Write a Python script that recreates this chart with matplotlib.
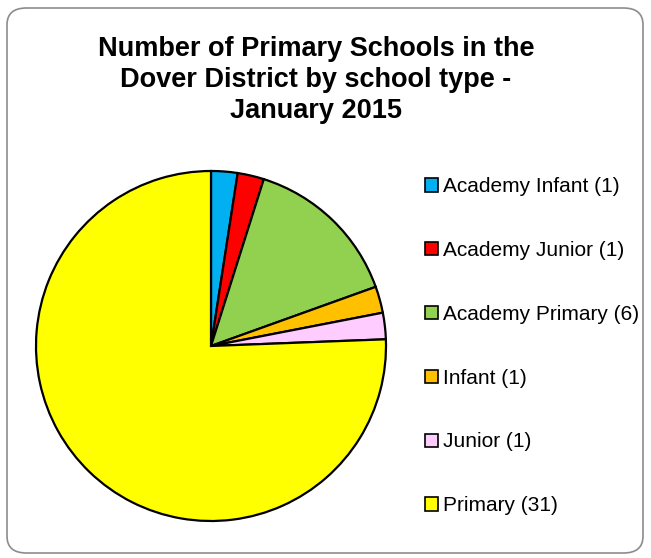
import matplotlib.pyplot as plt
from matplotlib.patches import FancyBboxPatch, Patch

plt.rcParams['font.family'] = ['Liberation Sans', 'DejaVu Sans']

# data
school_types = ["Academy Infant", "Academy Junior", "Academy Primary", "Infant", "Junior", "Primary"]
counts = [1, 1, 6, 1, 1, 31]
colours = ["#00B0F0", "#FF0000", "#92D050", "#FFC000", "#FFCCFF", "#FFFF00"]
title = "Number of Primary Schools in the\nDover District by school type -\nJanuary 2015"

W, H = 651, 558
fig = plt.figure(figsize=(W / 100, H / 100), dpi=100)

# rounded chart border
border = FancyBboxPatch((7 / W, 5 / H), 636 / W, 545 / H,
                        boxstyle="round,pad=0,rounding_size=0.03",
                        transform=fig.transFigure, facecolor="white",
                        edgecolor="#8c8c8c", linewidth=1.2, zorder=-5)
fig.patches.append(border)

# pie centred at (211, 346) px, radius 175 px
cx, cy, r = 211, 346, 175
ax = fig.add_axes([(cx - r) / W, (H - cy - r) / H, 2 * r / W, 2 * r / H])
ax.set_zorder(2)
ax.pie(counts, colors=colours, startangle=90, counterclock=False,
       wedgeprops=dict(edgecolor="black", linewidth=1.6))
ax.set_xlim(-1.0, 1.0)
ax.set_ylim(-1.0, 1.0)
ax.set_aspect("equal")
ax.axis("off")

fig.text(316 / W, 1 - 80 / H, title, ha="center", va="center",
         fontsize=19.5, fontweight="bold", linespacing=1.24)

handles = [Patch(facecolor=c, edgecolor="black", linewidth=1.2) for c in colours]
labels = [f"{t} ({n})" for t, n in zip(school_types, counts)]
fig.legend(handles, labels, loc="upper left",
           bbox_to_anchor=(417 / W, 1 - 169 / H), frameon=False,
           fontsize=15, handlelength=0.6, handleheight=0.6,
           handletextpad=0.25, labelspacing=2.15, borderaxespad=0)

fig.savefig("out.png", dpi=100)
